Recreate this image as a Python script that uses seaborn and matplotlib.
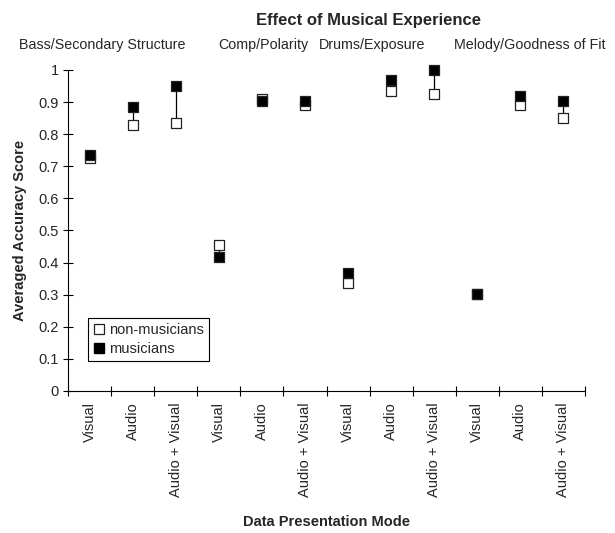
import numpy as np
import pandas as pd
import matplotlib
matplotlib.use('Agg')
import matplotlib.pyplot as plt
import seaborn as sns
from matplotlib.lines import Line2D
from matplotlib.ticker import FuncFormatter

# values
groups = ['Bass/Secondary Structure', 'Comp/Polarity', 'Drums/Exposure', 'Melody/Goodness of Fit']
modes = ['Visual', 'Audio', 'Audio + Visual'] * 4
non_musicians = [0.725, 0.829, 0.835, 0.454, 0.911, 0.892, 0.335, 0.934, 0.926, 0.302, 0.891, 0.850]
musicians = [0.735, 0.885, 0.951, 0.417, 0.903, 0.903, 0.367, 0.969, 1.000, 0.302, 0.919, 0.903]
y_ticks = np.arange(0, 1.01, 0.1)

sns.set_theme(style='white')
plt.rcParams['font.family'] = ['Liberation Sans', 'DejaVu Sans']

pos = np.arange(len(modes))
df = pd.DataFrame({
    'pos': np.concatenate([pos, pos]),
    'score': non_musicians + musicians,
    'group': ['non-musicians'] * len(pos) + ['musicians'] * len(pos),
})

fig = plt.figure(figsize=(6.15, 5.33), dpi=100)
ax = fig.add_axes([68 / 615, 142 / 533, 517 / 615, 321 / 533])

# high-low lines between the two groups
ax.vlines(pos, np.minimum(non_musicians, musicians), np.maximum(non_musicians, musicians),
          color='black', linewidth=0.9, zorder=1)

sns.scatterplot(data=df, x='pos', y='score', hue='group',
                palette={'non-musicians': 'white', 'musicians': 'black'},
                marker='s', s=52, edgecolor='#222222', linewidth=0.9,
                legend=False, ax=ax, zorder=2, clip_on=False)

ax.set_xlim(-0.5, len(modes) - 0.5)
ax.set_ylim(0, 1)

for side in ['top', 'right']:
    ax.spines[side].set_visible(False)
for side in ['left', 'bottom']:
    ax.spines[side].set_color('black')
    ax.spines[side].set_linewidth(0.8)

# y axis
ax.set_yticks(y_ticks)
ax.yaxis.set_major_formatter(FuncFormatter(lambda v, p: '%g' % round(v, 1)))
ax.tick_params(axis='y', direction='inout', length=7, width=0.8, color='black',
               labelsize=10.5, pad=3, left=True)

# x axis: ticks at boundaries, labels at centres
ax.set_xticks(np.arange(-0.5, len(modes), 1.0))
ax.set_xticklabels([])
ax.set_xticks(pos, minor=True)
ax.set_xticklabels(modes, minor=True, rotation=90, va='top', ha='center')
ax.tick_params(axis='x', which='major', direction='inout', length=6.5, width=0.8,
               color='black', bottom=True)
ax.tick_params(axis='x', which='minor', length=0, labelsize=10.5, pad=8, bottom=True)

ax.set_xlabel('Data Presentation Mode', fontsize=10.5, fontweight='bold', va='center')
ax.xaxis.set_label_coords(0.5, (391 - 522) / 321)
ax.set_ylabel('Averaged Accuracy Score', fontsize=10.5, fontweight='bold', va='center')
ax.yaxis.set_label_coords((20 - 68) / 517, 0.5)

# title and group captions
fig.text(369 / 615, 1 - 21 / 533, 'Effect of Musical Experience',
         fontsize=12, fontweight='bold', ha='center', va='center')
for g, cx in zip(groups, [102, 263, 372, 530]):
    fig.text(cx / 615, 1 - 45 / 533, g, fontsize=10.3, ha='center', va='center')

handles = [
    Line2D([], [], marker='s', linestyle='none', markersize=7, markerfacecolor='white',
           markeredgecolor='#222222', markeredgewidth=0.9),
    Line2D([], [], marker='s', linestyle='none', markersize=7, markerfacecolor='black',
           markeredgecolor='black'),
]
leg = ax.legend(handles, ['non-musicians', 'musicians'], loc='lower left',
                bbox_to_anchor=(20 / 517, 30 / 321), borderaxespad=0,
                fontsize=10.5, frameon=True, fancybox=False, framealpha=1,
                edgecolor='black', handlelength=0.8, handletextpad=0.3,
                labelspacing=0.35, borderpad=0.35)
leg.get_frame().set_linewidth(0.8)

fig.savefig('out.png', dpi=100)
